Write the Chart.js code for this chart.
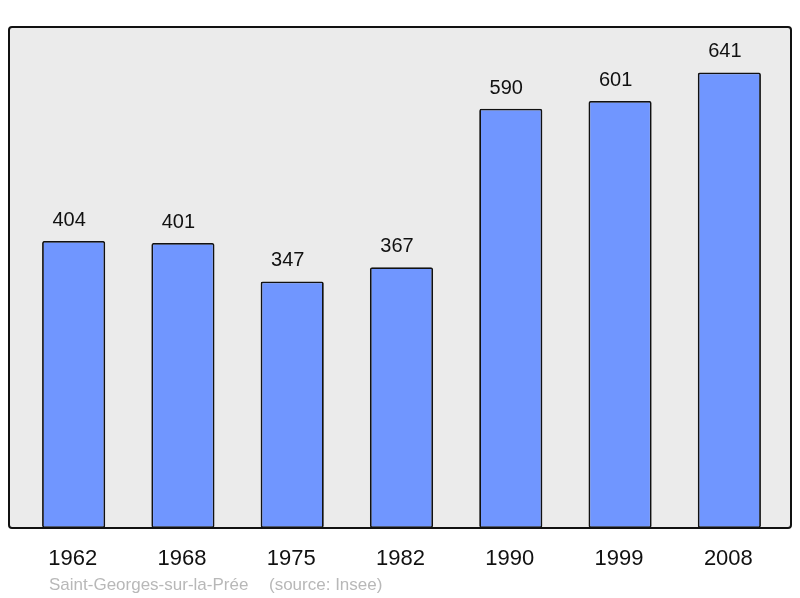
<!DOCTYPE html>
<html>
<head>
<meta charset="utf-8">
<script src="https://cdn.jsdelivr.net/npm/chart.js@4"></script>
<style>
  html, body { margin: 0; padding: 0; background: #fff; }
  #wrap { position: relative; width: 800px; height: 598px; }
</style>
</head>
<body>
<div id="wrap"><canvas id="chart"></canvas></div>
<script>
const years = ['1962', '1968', '1975', '1982', '1990', '1999', '2008'];
const population = [404, 401, 347, 367, 590, 601, 641];
const placeName = 'Saint-Georges-sur-la-Prée';
const sourceText = '(source: Insee)';

// cadre gris + libellés dessinés autour de la zone du graphique
const frame = {
  id: 'frame',
  beforeDraw(chart) {
    const { ctx } = chart;
    ctx.save();
    ctx.fillStyle = '#ebebeb';
    ctx.beginPath();
    ctx.roundRect(9, 27, 782, 501, 3);
    ctx.fill();
    ctx.restore();
  },
  afterDraw(chart) {
    const { ctx } = chart;
    const x = chart.scales.x, y = chart.scales.y;
    ctx.save();
    ctx.strokeStyle = '#111';
    ctx.lineWidth = 2;
    ctx.beginPath();
    ctx.roundRect(9, 27, 782, 501, 3);
    ctx.stroke();

    ctx.fillStyle = '#111';
    ctx.textAlign = 'center';
    ctx.textBaseline = 'alphabetic';
    ctx.font = '20px "Liberation Sans", Arial, sans-serif';
    population.forEach((v, i) => {
      ctx.fillText(String(v), x.getPixelForValue(i) - 4.5, y.getPixelForValue(v) - 15);
    });

    ctx.font = '22px "Liberation Sans", Arial, sans-serif';
    years.forEach((yr, i) => {
      ctx.fillText(yr, x.getPixelForValue(i) - 1, 565);
    });

    ctx.fillStyle = '#b8b8b8';
    ctx.textAlign = 'left';
    ctx.font = '17px "Liberation Sans", Arial, sans-serif';
    ctx.fillText(placeName, 49, 590);
    ctx.fillText(sourceText, 269, 590);
    ctx.restore();
  }
};

new Chart(document.getElementById('chart'), {
  type: 'bar',
  data: {
    labels: years,
    datasets: [{
      data: population,
      backgroundColor: '#7096ff',
      borderColor: '#111',
      borderWidth: 1.8,
      borderRadius: 2,
      borderSkipped: false,
      barPercentage: 0.578,
      categoryPercentage: 1
    }]
  },
  options: {
    responsive: true,
    maintainAspectRatio: false,
    animation: false,
    layout: { padding: { left: 19, right: 16, top: 27, bottom: 70 } },
    plugins: { legend: { display: false }, tooltip: { enabled: false } },
    scales: {
      x: { display: false },
      y: { display: false, min: 0, max: 705 }
    }
  },
  plugins: [frame]
});
</script>
</body>
</html>
